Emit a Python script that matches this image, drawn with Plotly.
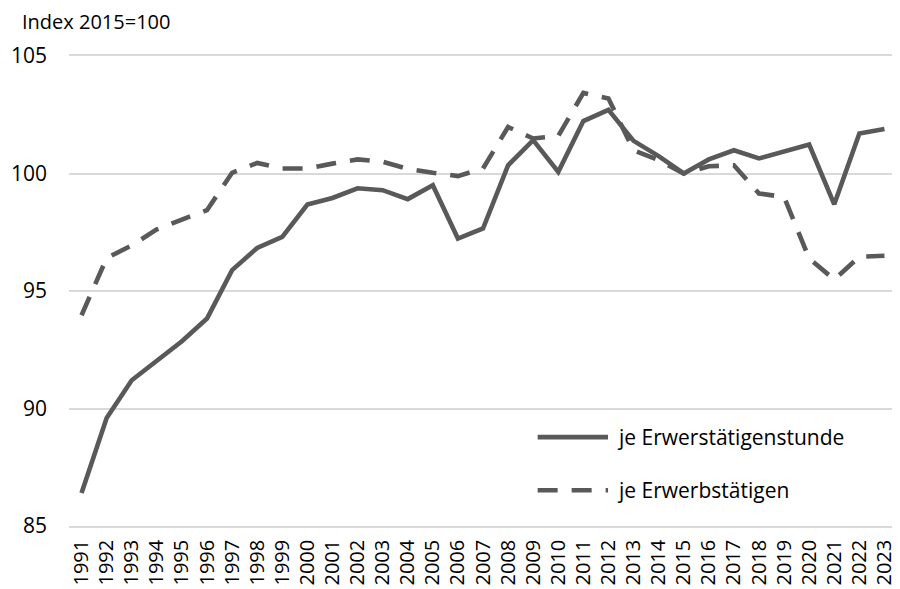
import plotly.graph_objects as go

years = list(range(1991, 2024))

# Arbeitsproduktivität je Erwerbstätigenstunde (Index 2015=100)
je_stunde = [86.4, 89.6, 91.2, 92.05, 92.86, 93.83, 95.89, 96.83, 97.3, 98.68,
             98.96, 99.37, 99.29, 98.91, 99.5, 97.23, 97.66, 100.35, 101.42, 100.07,
             102.23, 102.71, 101.39, 100.74, 100.0, 100.6, 100.99, 100.64, 100.96, 101.23,
             98.69, 101.7, 101.89]

# Arbeitsproduktivität je Erwerbstätigen (Index 2015=100)
je_person = [93.97, 96.4, 96.94, 97.62, 98.04, 98.44, 100.03, 100.45, 100.21, 100.21,
             100.42, 100.6, 100.5, 100.2, 100.03, 99.89, 100.21, 101.98, 101.49, 101.6,
             103.43, 103.19, 100.99, 100.57, 100.0, 100.31, 100.35, 99.15, 99.0, 96.38,
             95.49, 96.46, 96.5]

legend_names = ["je Erwerstätigenstunde", "je Erwerbstätigen"]
y_ticks = [85, 90, 95, 100, 105]

LINE = "#595959"
GRID = "#d9d9d9"
FONT = "Open Sans"
DASH = "20px,14px"

fig = go.Figure()

fig.add_trace(go.Scatter(
    x=years, y=je_stunde, mode="lines",
    line=dict(color=LINE, width=4.6),
    name=legend_names[0], showlegend=False,
))
fig.add_trace(go.Scatter(
    x=years, y=je_person, mode="lines",
    line=dict(color=LINE, width=4.6, dash=DASH),
    name=legend_names[1], showlegend=False,
))

# hand-drawn legend (longer line samples than plotly's built-in legend)
for i, (yy, dash) in enumerate([(0.189, "solid"), (0.076, DASH)]):
    fig.add_shape(type="line", xref="paper", yref="paper",
                  x0=0.566, x1=0.651, y0=yy, y1=yy,
                  line=dict(color=LINE, width=4.6, dash=dash))
    fig.add_annotation(xref="paper", yref="paper", x=0.659, y=yy,
                       text=legend_names[i], showarrow=False,
                       xanchor="left", yanchor="middle",
                       font=dict(family=FONT, size=21, color="#000000"))

# the page body has an 8px margin; the figure is shifted by it and runs
# slightly past the bottom of the window
fig.update_layout(
    width=892, height=589,
    paper_bgcolor="white", plot_bgcolor="white",
    font=dict(family=FONT, size=21, color="#000000"),
    margin=dict(l=61, r=3, t=48, b=71),
    showlegend=False,
    title=dict(text="Index 2015=100", xref="container", yref="container",
               x=14 / 892, y=1 - 14 / 589, xanchor="left", yanchor="middle",
               font=dict(family=FONT, size=20, color="#000000")),
    xaxis=dict(
        range=[1990.5, 2023.5], tickmode="array", tickvals=years,
        ticktext=[str(y) for y in years], tickangle=-90,
        tickfont=dict(family=FONT, size=20, color="#000000"),
        showgrid=False, zeroline=False, ticks="",
        # top/bottom frame lines stand in for the 105 and 85 gridlines
        showline=True, mirror=True, linecolor=GRID, linewidth=1.5,
        ticklabelstandoff=4, automargin=False, fixedrange=True,
    ),
    yaxis=dict(
        range=[85, 105], tickvals=y_ticks, showgrid=True,
        gridcolor=GRID, gridwidth=1.5, zeroline=False, showline=False,
        ticks="", ticklabelstandoff=21, automargin=False, fixedrange=True,
    ),
)

fig.write_html("out.html")
